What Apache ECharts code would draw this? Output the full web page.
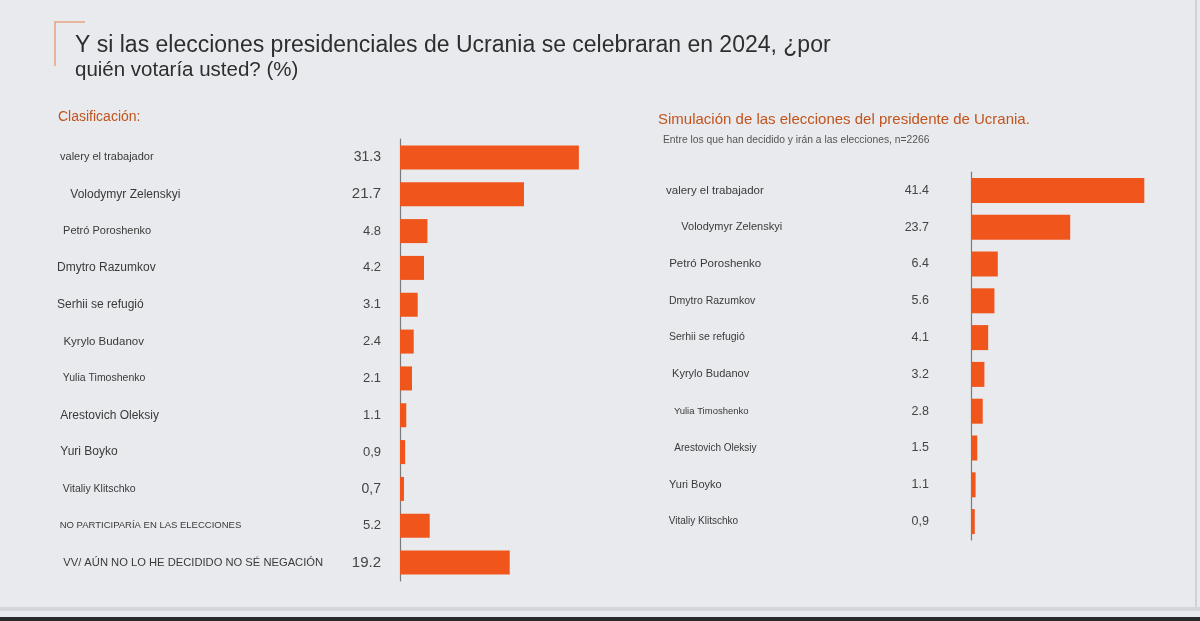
<!DOCTYPE html>
<html>
<head>
<meta charset="utf-8">
<script src="https://cdn.jsdelivr.net/npm/echarts@6/dist/echarts.min.js"></script>
<style>
html,body{margin:0;padding:0;background:#e8eaed;}
#c{width:1200px;height:621px;}
</style>
</head>
<body>
<div id="c"></div>
<script>
// ---- Data ----
const leftCategories = ['valery el trabajador','Volodymyr Zelenskyi','Petró Poroshenko','Dmytro Razumkov','Serhii se refugió','Kyrylo Budanov','Yulia Timoshenko','Arestovich Oleksiy','Yuri Boyko','Vitaliy Klitschko','NO PARTICIPARÍA EN LAS ELECCIONES','VV/ AÚN NO LO HE DECIDIDO NO SÉ NEGACIÓN'];
const leftValues = [31.3, 21.7, 4.8, 4.2, 3.1, 2.4, 2.1, 1.1, 0.9, 0.7, 5.2, 19.2];
const leftValueLabels = ['31.3','21.7','4.8','4.2','3.1','2.4','2.1','1.1','0,9','0,7','5.2','19.2'];

const rightCategories = ['valery el trabajador','Volodymyr Zelenskyi','Petró Poroshenko','Dmytro Razumkov','Serhii se refugió','Kyrylo Budanov','Yulia Timoshenko','Arestovich Oleksiy','Yuri Boyko','Vitaliy Klitschko'];
const rightValues = [41.4, 23.7, 6.4, 5.6, 4.1, 3.2, 2.8, 1.5, 1.1, 0.9];
const rightValueLabels = ['41.4','23.7','6.4','5.6','4.1','3.2','2.8','1.5','1.1','0,9'];

const titleLine1 = 'Y si las elecciones presidenciales de Ucrania se celebraran en 2024, ¿por';
const titleLine2 = 'quién votaría usted? (%)';
const leftHeading = 'Clasificación:';
const rightHeading = 'Simulación de las elecciones del presidente de Ucrania.';
const rightSub = 'Entre los que han decidido y irán a las elecciones, n=2266';

// ---- Styles (separate from data) ----
const leftNameSizes = [11, 12, 11, 12, 12, 11.5, 10.5, 12, 12, 10.5, 9.5, 11.2];
const leftNameIndent = [3, 12, 6, 0, 0, 6, 6, 4, 3, 6, 4, 5];
const leftValSizes = [14, 15, 13, 13, 13, 13, 13, 13, 13, 14, 13, 15];
const rightNameSizes = [11.5, 11, 11.5, 10.5, 10.5, 11, 9.5, 10, 11, 10];
const rightNameIndent = [0, 16, 2, 3, 2, 6, 10, 10, 3, 4];

const FONT = '"Liberation Sans", Arial, sans-serif';
const BAR = '#f0561c';

function makeRich(sizes, nameW, valW, valSizes, valDefault) {
  const r = {};
  sizes.forEach((s, i) => {
    r['n' + i] = {fontSize: s, color: '#3a3a3a', width: nameW, align: 'left', fontFamily: FONT};
    r['v' + i] = {fontSize: valSizes ? valSizes[i] : valDefault, color: '#444', width: valW, align: 'right', fontFamily: FONT};
  });
  return r;
}
function padStr(k) { return k > 0 ? ' '.repeat(Math.round(k/3)) : ''; }

const chart = echarts.init(document.getElementById('c'));
chart.setOption({
  backgroundColor: '#e8eaed',
  animation: false,
  textStyle: {fontFamily: FONT},
  grid: [
    {left: 400, top: 139, width: 200, height: 442},
    {left: 971, top: 172, width: 180, height: 368}
  ],
  xAxis: [
    {gridIndex: 0, type: 'value', min: 0, max: 35, show: false},
    {gridIndex: 1, type: 'value', min: 0, max: 43, show: false}
  ],
  yAxis: [
    {
      gridIndex: 0, type: 'category', inverse: true, data: leftCategories,
      axisLine: {show: true, lineStyle: {color: '#7a7a7a', width: 1.2}},
      axisTick: {show: false},
      axisLabel: {
        align: 'left', margin: 343, interval: 0,
        formatter: (v, i) => '{n' + i + '|' + padStr(leftNameIndent[i]) + v + '}{v' + i + '|' + leftValueLabels[i] + '}',
        rich: makeRich(leftNameSizes, 290, 34, leftValSizes, 13)
      }
    },
    {
      gridIndex: 1, type: 'category', inverse: true, data: rightCategories,
      axisLine: {show: true, lineStyle: {color: '#7a7a7a', width: 1.2}},
      axisTick: {show: false},
      axisLabel: {
        align: 'left', margin: 305, interval: 0,
        formatter: (v, i) => '{n' + i + '|' + padStr(rightNameIndent[i]) + v + '}{v' + i + '|' + rightValueLabels[i] + '}',
        rich: makeRich(rightNameSizes, 230, 33, null, 12.5)
      }
    }
  ],
  series: [
    {type: 'bar', xAxisIndex: 0, yAxisIndex: 0, data: leftValues, barWidth: 24, itemStyle: {color: BAR}},
    {type: 'bar', xAxisIndex: 1, yAxisIndex: 1, data: rightValues, barWidth: 25, itemStyle: {color: BAR}}
  ],
  graphic: [
    {type: 'polyline', shape: {points: [[85, 22], [55, 22], [55, 66]]}, style: {stroke: '#e6a283', lineWidth: 1.5, fill: null}},
    {type: 'text', left: 75, top: 34, style: {text: titleLine1, font: '23px ' + FONT, fill: '#2e2e2e'}},
    {type: 'text', left: 75, top: 60, style: {text: titleLine2, font: '20.5px ' + FONT, fill: '#2e2e2e'}},
    {type: 'text', left: 58, top: 110, style: {text: leftHeading, font: '14px ' + FONT, fill: '#c2541e'}},
    {type: 'text', left: 658, top: 112, style: {text: rightHeading, font: '15px ' + FONT, fill: '#c2541e'}},
    {type: 'text', left: 663, top: 135, style: {text: rightSub, font: '10.3px ' + FONT, fill: '#555'}},
    {type: 'rect', shape: {x: 1195, y: 0, width: 2, height: 608}, style: {fill: '#cfd1d4'}},
    {type: 'rect', shape: {x: 0, y: 607, width: 1200, height: 4}, style: {fill: '#d4d6d9'}},
    {type: 'rect', shape: {x: 0, y: 617, width: 1200, height: 4}, style: {fill: '#2a2a2a'}}
  ]
});
</script>
</body>
</html>
